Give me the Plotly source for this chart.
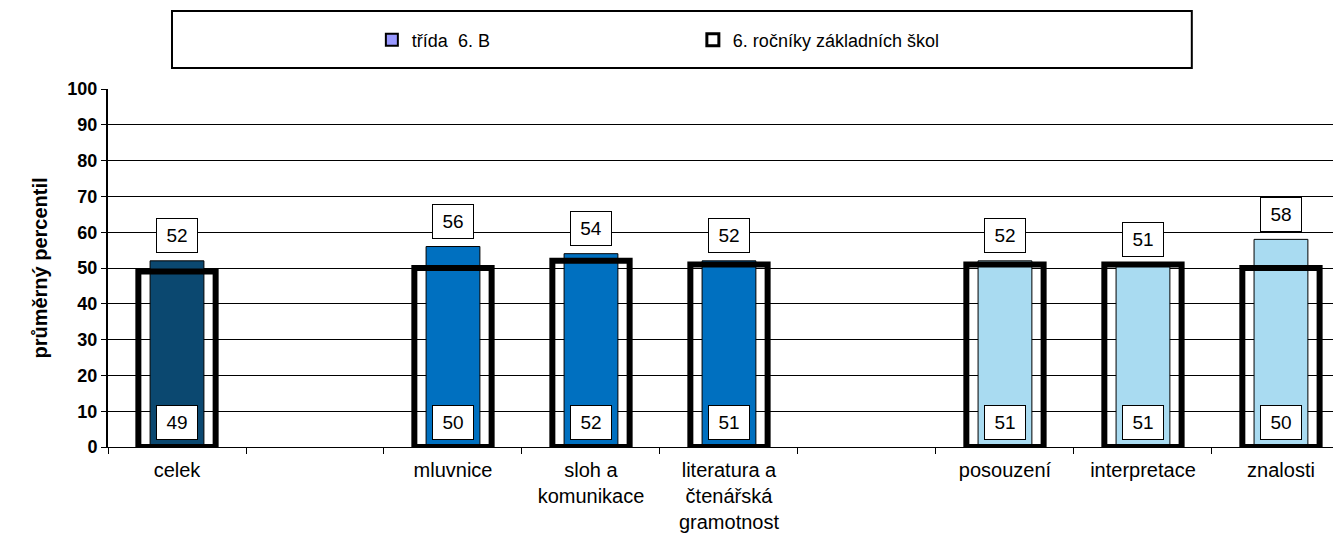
import plotly.graph_objects as go

# categories (blank slots keep the gaps between groups)
categories = ["celek", " ", "mluvnice", "sloh a<br>komunikace",
              "literatura a<br>čtenářská<br>gramotnost", "  ",
              "posouzení", "interpretace", "znalosti"]
trida_values = [52, None, 56, 54, 52, None, 52, 51, 58]
skoly_values = [49, None, 50, 52, 51, None, 51, 51, 50]
bar_colors = ["#0B4870", "#0070C0", "#0070C0", "#0070C0", "#0070C0",
              "#0070C0", "#A9DBF1", "#A9DBF1", "#A9DBF1"]
y_ticks = list(range(0, 101, 10))

FONT = "Liberation Sans, Arial, sans-serif"

fig = go.Figure()

# class values - filled bars
fig.add_trace(go.Bar(
    x=categories, y=trida_values,
    width=0.39,
    marker=dict(color=bar_colors, line=dict(color="black", width=1)),
    showlegend=False,
))

# all schools - thick outlined bars drawn on top
fig.add_trace(go.Bar(
    x=categories, y=skoly_values,
    width=0.56,
    marker=dict(color="rgba(0,0,0,0)", line=dict(color="black", width=6)),
    showlegend=False,
))

# legend-only traces
fig.add_trace(go.Bar(
    x=[categories[0]], y=[None], name="třída  6. B",
    marker=dict(color="#9999FF", line=dict(color="black", width=2)),
))
fig.add_trace(go.Bar(
    x=[categories[0]], y=[None], name="6. ročníky základních škol",
    marker=dict(color="white", line=dict(color="black", width=3)),
))

# value labels in boxes
annotations = []
for cat, v1, v2 in zip(categories, trida_values, skoly_values):
    if v1 is None:
        continue
    box = dict(
        showarrow=False, font=dict(family=FONT, size=19, color="black"),
        bgcolor="white", bordercolor="black", borderwidth=1,
        width=36, height=29, borderpad=2, xanchor="center", yanchor="middle",
    )
    annotations.append(dict(box, x=cat, y=v1, yshift=25, text=str(v1)))
    annotations.append(dict(box, x=cat, y=0, yshift=25, text=str(v2)))

# page body adds an 8px offset, so the figure is 8px smaller than the window
fig.update_layout(
    width=1333, height=525,
    margin=dict(l=100, r=0, t=81, b=86, autoexpand=False),
    barmode="overlay",
    plot_bgcolor="white", paper_bgcolor="white",
    font=dict(family=FONT, color="black"),
    annotations=annotations,
    showlegend=True,
    legend=dict(
        orientation="h", x=0.214, y=1.137, xanchor="left", yanchor="middle",
        font=dict(family=FONT, size=18, color="black"),
        bgcolor="rgba(0,0,0,0)", entrywidth=276, itemwidth=30,
    ),
    shapes=[dict(type="rect", xref="paper", yref="paper",
                 x0=0.0519, x1=0.879, y0=1.0587, y1=1.218,
                 line=dict(color="black", width=2))],
    xaxis=dict(
        type="category", categoryorder="array", categoryarray=categories,
        range=[-0.5, 8.435], tickson="boundaries", ticks="outside",
        ticklen=6, tickcolor="black", showline=True, linecolor="black",
        linewidth=1, showgrid=False, ticklabelstandoff=5,
        tickfont=dict(family=FONT, size=20, color="black"),
    ),
    yaxis=dict(
        range=[0, 100], tickvals=y_ticks, ticks="outside", ticklen=5,
        tickcolor="black", showline=True, linecolor="black", linewidth=2,
        showgrid=True, gridcolor="black", gridwidth=1, zeroline=False,
        tickfont=dict(family=FONT, size=18, color="black", weight="bold"),
        title=dict(text="průměrný percentil", standoff=14,
                   font=dict(family=FONT, size=20, color="black", weight="bold")),
    ),
)

fig.write_html("out.html")
